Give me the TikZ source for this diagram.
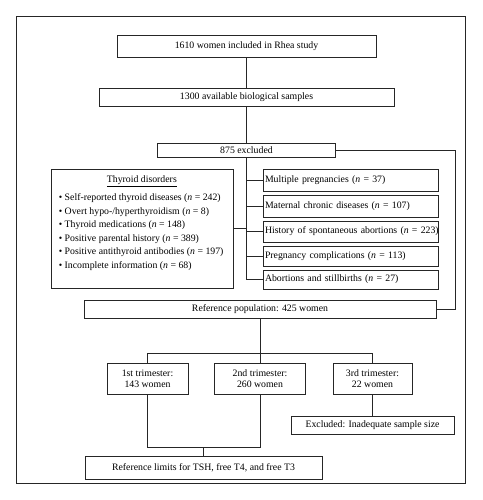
\documentclass[tikz,border=0pt]{standalone}
\usepackage{fontspec}
\setmainfont{Liberation Serif}
\begin{document}
\begin{tikzpicture}[x=1pt,y=-1pt,
  box/.style={draw=black!85, line width=0.7pt, inner sep=0pt, font=\fontsize{9.8}{11.2}\selectfont},
  lbox/.style={box, text width=171pt, inner xsep=2pt, align=left},
  ln/.style={draw=black!85, line width=0.7pt}]
\useasboundingbox (0,0) rectangle (482,500);
\draw[line width=0.8pt, black!85] (16.5,16) rectangle (465.5,483);

\node[box, minimum width=259pt, minimum height=22pt] (s1) at (246.5,46) {1610 women included in Rhea study};
\node[box, minimum width=295pt, minimum height=18pt] (s2) at (246.5,97) {1300 available biological samples};
\node[box, minimum width=178pt, minimum height=14pt] (ex) at (246.5,150) {875 excluded};

\node[box, minimum width=182pt, minimum height=119pt, inner xsep=8pt] (thy) at (141.85,228.5)
 {\parbox[t][105pt][t]{166pt}{\fontsize{9.8}{13.46}\selectfont
   \centering\underline{Thyroid disorders}\par\vspace{4.6pt}\raggedright
   \textbullet\ Self-reported thyroid diseases (\textit{n} = 242)\par
   \textbullet\ Overt hypo-/hyperthyroidism (\textit{n} = 8)\par
   \textbullet\ Thyroid medications (\textit{n} = 148)\par
   \textbullet\ Positive parental history (\textit{n} = 389)\par
   \textbullet\ Positive antithyroid antibodies (\textit{n} = 197)\par
   \textbullet\ Incomplete information (\textit{n} = 68)\par}};

\node[lbox, minimum height=22pt] (a) at (350.5,180) {\mbox{Multiple pregnancies (\textit{n} = 37)}};
\node[lbox, minimum height=22pt] (b) at (350.5,206) {\mbox{Maternal chronic diseases (\textit{n} = 107)}};
\node[lbox, minimum height=21pt] (c) at (350.5,231.5) {\mbox{History of spontaneous abortions (\textit{n} = 223)}};
\node[lbox, minimum height=20pt] (d) at (350.5,256) {\mbox{Pregnancy complications (\textit{n} = 113)}};
\node[lbox, minimum height=19pt] (e) at (350.5,279.5) {\mbox{Abortions and stillbirths (\textit{n} = 27)}};

\node[box, minimum width=352pt, minimum height=18pt] (rp) at (260,309) {Reference population: 425 women};

\node[box, minimum width=81pt, minimum height=31pt, align=center] (t1) at (147.5,378.5) {1st trimester:\\143 women};
\node[box, minimum width=91pt, minimum height=31pt, align=center] (t2) at (260,378.5) {2nd trimester:\\260 women};
\node[box, minimum width=79pt, minimum height=31pt, align=center] (t3) at (372.5,378.5) {3rd trimester:\\22 women};
\node[box, minimum width=163pt, minimum height=18pt] (exc) at (372.5,425) {Excluded: Inadequate sample size};
\node[box, minimum width=237pt, minimum height=23pt] (fin) at (203.5,467.5) {Reference limits for TSH, free T4, and free T3};

\coordinate (rc) at (455,150);
\coordinate (j1) at (260,353);
\coordinate (j2) at (203.5,447);

\draw[ln] (s1) -- (s2);
\draw[ln] (s2) -- (ex);
\draw[ln] (ex.south) -- (ex.south |- e.west);
\foreach \n in {a,b,c,d,e} \draw[ln] (ex.south |- \n.west) -- (\n.west);
\draw[ln] (thy.east) -- (thy.east -| ex.south);
\draw[ln] (ex.east) -- (rc) |- (rp.east);
\draw[ln] (rp.south) -- (j1);
\draw[ln] (t1.north) -- (t1.north |- j1) -- (t3.north |- j1) -- (t3.north);
\draw[ln] (j1) -- (t2.north);
\draw[ln] (t1.south) -- (t1.south |- j2) -- (t2.south |- j2) -- (t2.south);
\draw[ln] (j2) -- (fin.north);
\draw[ln] (t3) -- (exc);
\end{tikzpicture}
\end{document}
